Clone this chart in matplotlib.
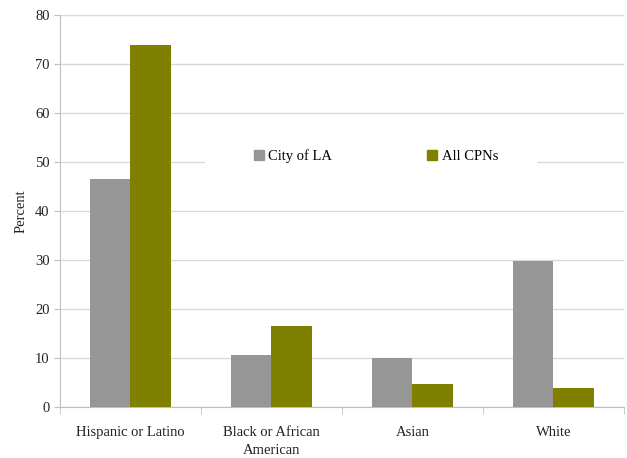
import numpy as np
import matplotlib
matplotlib.use("Agg")
import matplotlib.pyplot as plt
from matplotlib.patches import Patch, Rectangle

categories = ["Hispanic or Latino", "Black or African\nAmerican", "Asian", "White"]
city_la = [46.6, 10.7, 10.0, 29.7]
all_cpns = [74.0, 16.6, 4.6, 3.8]

plt.rcParams['font.family'] = ['Liberation Serif', 'DejaVu Serif']

fig = plt.figure(figsize=(6.27, 4.58), dpi=100)
ax = fig.add_axes([0.0957, 0.1114, 0.8993, 0.8556])

x = np.arange(len(categories))
w = 0.29
grey = '#969696'
olive = '#808000'
ax.bar(x - w / 2, city_la, w, color=grey, zorder=3)
ax.bar(x + w / 2, all_cpns, w, color=olive, zorder=3)

ax.set_xlim(-0.5, len(categories) - 0.5)
ax.set_ylim(0, 80)
ax.set_yticks(range(0, 81, 10))
ax.yaxis.grid(True, color='#d9d9d9', linewidth=1, zorder=0)
ax.set_axisbelow(True)

ax.set_xticks(x)
ax.set_xticklabels(categories, fontsize=10.5, color='#222222', linespacing=1.45)
ax.set_xticks(np.arange(-0.5, len(categories)), minor=True)
ax.tick_params(axis='x', which='major', length=0, pad=14)
ax.tick_params(axis='x', which='minor', length=5, color='#bfbfbf')
ax.tick_params(axis='y', length=4, color='#bfbfbf', labelsize=10.5, labelcolor='#222222')
ax.set_ylabel('Percent', fontsize=10.5, color='#222222', labelpad=5)

for s in ['top', 'right']:
    ax.spines[s].set_visible(False)
for s in ['left', 'bottom']:
    ax.spines[s].set_color('#bfbfbf')

# white box behind the legend, interrupting the 50 gridline
ax.add_patch(Rectangle((0.257, 0.60), 0.589, 0.08, transform=ax.transAxes,
                       facecolor='white', edgecolor='none', zorder=1))

handles = [Patch(color=grey), Patch(color=olive)]
leg = ax.legend(handles, ['City of LA', 'All CPNs'], loc='center',
                bbox_to_anchor=(0.56, 0.64), ncol=2, frameon=False,
                fontsize=10.5, handlelength=0.7, handleheight=0.7,
                handletextpad=0.3, columnspacing=6.5, borderaxespad=0)

fig.savefig('out.png', dpi=100)
